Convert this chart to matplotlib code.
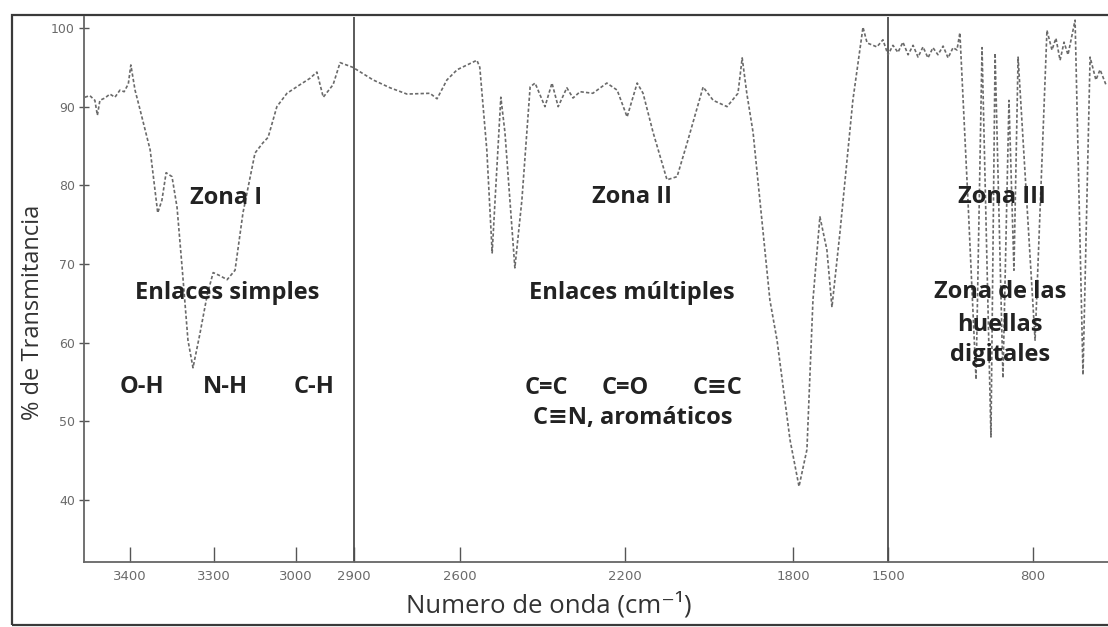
import numpy as np
import matplotlib
matplotlib.use("Agg")
import matplotlib.pyplot as plt
from matplotlib.patches import Rectangle

# ---------------- data ----------------
wavenumber = [
    3454, 3448, 3442, 3439, 3436, 3430, 3424, 3418, 3412, 3407, 3402, 3399,
    3394, 3388, 3376, 3367, 3362, 3357, 3350, 3344, 3338, 3331, 3325, 3317,
    3308, 3301, 3278, 3252, 3223, 3194, 3150, 3121, 3102, 3070, 3033, 2993,
    2976, 2964, 2953, 2936, 2924, 2902,
    2846, 2798, 2750, 2685, 2665, 2637, 2608, 2559, 2552, 2535, 2522, 2515,
    2501, 2491, 2467, 2450, 2430, 2418, 2394, 2377, 2362, 2341, 2326, 2309,
    2278, 2244, 2219, 2195, 2171, 2157, 2133, 2100, 2076, 2052, 2014, 1990,
    1957, 1931, 1921, 1910, 1895, 1855, 1838, 1807, 1781, 1756, 1737, 1715,
    1693, 1677, 1652, 1611, 1579, 1566, 1535,
    1516, 1500, 1476, 1452, 1428, 1403, 1379, 1355, 1331, 1307, 1283, 1259,
    1234, 1210, 1186, 1167, 1153, 1114, 1075, 1046, 1003, 983, 945, 916,
    892, 872, 790, 733, 709, 690, 670, 651, 632, 598, 560, 526, 498, 478, 450,
]
transmittance = [
    91.2, 91.4, 90.8, 88.9, 90.8, 91.1, 91.6, 91.2, 92.1, 91.9, 92.9, 95.3,
    92.1, 89.6, 84.5, 76.5, 78.1, 81.6, 81.1, 77.2, 69.6, 60.3, 56.8, 61.0,
    66.1, 68.9, 68.5, 68.0, 69.2, 76.5, 84.1, 85.4, 86.1, 90.0, 91.7, 92.8,
    93.6, 94.4, 91.2, 92.8, 95.6, 95.0,
    93.4, 92.4, 91.6, 91.7, 91.0, 93.4, 94.7, 95.9, 95.0, 84.5, 71.4, 78.1,
    91.2, 86.7, 69.5, 78.1, 92.5, 93.0, 90.0, 93.0, 90.0, 92.4, 91.1, 91.9,
    91.7, 93.0, 92.1, 88.7, 93.0, 91.7, 86.7, 80.7, 81.1, 85.4, 92.5, 90.8,
    90.0, 91.7, 96.2, 91.7, 86.7, 65.4, 60.3, 47.6, 41.7, 46.4, 65.4, 76.0,
    71.8, 64.5, 73.9, 90.8, 100.1, 98.1, 97.6,
    98.5, 96.6, 97.8, 96.9, 98.2, 96.6, 97.8, 96.3, 97.6, 96.2, 97.5, 96.6,
    97.7, 96.2, 97.5, 97.2, 99.4, 78.1, 55.3, 97.5, 48.0, 96.8, 55.5, 90.8,
    69.2, 96.3, 60.3, 99.7, 97.2, 98.7, 95.9, 98.2, 96.6, 101.0, 55.9, 96.3,
    93.4, 94.7, 92.8,
]
xtick_values = [3400, 3300, 3000, 2900, 2600, 2200, 1800, 1500, 800]
xtick_labels = ["3400", "3300", "3000", "2900", "2600", "2200", "1800", "1500", "800"]
ytick_values = [40, 50, 60, 70, 80, 90, 100]
zone_borders = [2900, 1500]

# non-linear (piecewise) wavenumber axis of the original figure
scale_wn = np.array([440, 800, 1500, 1800, 2200, 2600, 2900, 3000, 3300, 3400, 3455], float)
scale_pos = np.array([1108, 1033, 888, 793, 625, 460, 354, 296, 214, 130, 84], float)


def fwd(x):
    # increasing function of wavenumber
    return -np.interp(x, scale_wn, scale_pos)


def inv(p):
    return np.interp(-np.asarray(p, float), scale_pos[::-1], scale_wn[::-1])


# ---------------- figure ----------------
W, H = 1108, 627
plt.rcParams["font.family"] = ["Open Sans", "DejaVu Sans"]
fig = plt.figure(figsize=(W / 100, H / 100), dpi=100)


def fx(px):
    return px / W


def fy(py):
    return 1 - py / H


# outer frame
fig.patches.append(Rectangle((fx(12), fy(625)), fx(1200) - fx(12), fy(15) - fy(625),
                             transform=fig.transFigure, fill=False,
                             edgecolor="#3a3a3a", linewidth=1.6, zorder=0))

ax = fig.add_axes([fx(84), fy(562), 1 - fx(84), fy(17) - fy(562)])
ax.set_xscale("function", functions=(fwd, inv))
ax.set_xlim(3455, 440)
ax.set_ylim(32.1, 101.4)

ax.plot(wavenumber, transmittance, color="#6a6a6a", linewidth=1.2,
        linestyle=(0, (2.0, 1.3)), zorder=3, clip_on=False)

for b in zone_borders:
    ax.axvline(b, color="#4d4d4d", linewidth=1.3, zorder=2)

for s in ["top", "right"]:
    ax.spines[s].set_visible(False)
for s in ["left", "bottom"]:
    ax.spines[s].set_color("#666666")
    ax.spines[s].set_linewidth(1.3)

ax.set_xticks(xtick_values)
ax.set_xticklabels(xtick_labels, family=["DejaVu Sans"])
ax.set_yticks(ytick_values)
ax.set_yticklabels([str(v) for v in ytick_values], family=["DejaVu Sans"])
ax.tick_params(axis="x", direction="in", length=11, width=1.0, color="#555555",
               labelsize=9.5, labelcolor="#6a6a6a", pad=6)
ax.tick_params(axis="y", direction="inout", length=7, width=1.0, color="#555555",
               labelsize=9, labelcolor="#6a6a6a", pad=3)
ax.minorticks_off()

# axis titles
fig.text(fx(549), fy(605), "Numero de onda (cm⁻¹)", ha="center", va="center",
         fontsize=18.5, color="#333333")
fig.text(fx(33), fy(312), "% de Transmitancia", ha="center", va="center",
         rotation=90, fontsize=17, color="#333333")

# annotations
bold = dict(ha="center", va="center", fontsize=17, fontweight="bold",
            color="#222222", zorder=5)
fig.text(fx(226), fy(198), "Zona I", **bold)
fig.text(fx(227), fy(293), "Enlaces simples", **bold)
fig.text(fx(142), fy(387), "O-H", **bold)
fig.text(fx(225), fy(387), "N-H", **bold)
fig.text(fx(314), fy(387), "C-H", **bold)
fig.text(fx(632), fy(197), "Zona II", **bold)
fig.text(fx(632), fy(293), "Enlaces múltiples", **bold)
fig.text(fx(546), fy(388), "C=C", **bold)
fig.text(fx(625), fy(388), "C=O", **bold)
fig.text(fx(718), fy(388), "C≡C", **bold)
fig.text(fx(633), fy(418), "C≡N, aromáticos", **bold)
fig.text(fx(1002), fy(197), "Zona III", **bold)
fig.text(fx(1000), fy(292), "Zona de las", **bold)
fig.text(fx(1000), fy(325), "huellas", **bold)
fig.text(fx(1000), fy(355), "digitales", **bold)

fig.savefig("out.png", dpi=100)
